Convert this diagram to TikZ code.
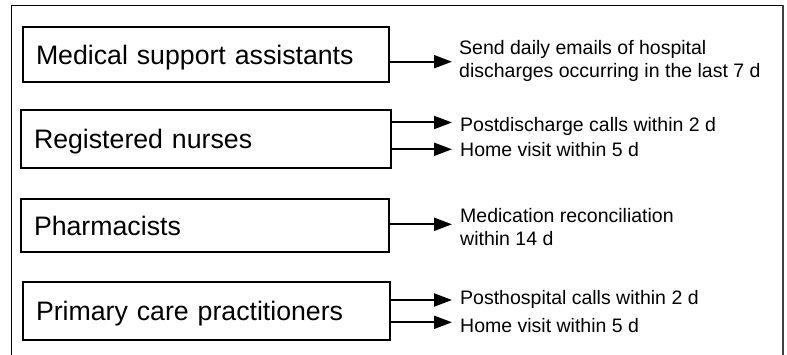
\documentclass[tikz,border=0pt]{standalone}
\usepackage{fontspec}
\setmainfont{Liberation Sans}
\usetikzlibrary{arrows.meta}
\begin{document}
\begin{tikzpicture}[x=1pt,y=-1pt,
  rolebox/.style={draw=black, line width=2pt, inner xsep=13pt, inner ysep=0pt, outer sep=0pt,
    align=left, font=\fontsize{26.7}{32}\selectfont, text height=19.2pt, text depth=0pt},
  task/.style={inner sep=0pt, anchor=base west, font=\fontsize{19.5}{22.5}\selectfont},
  arr/.style={line width=2pt, -{Triangle[length=18pt,width=13pt]}}]
\useasboundingbox (0,0) rectangle (787,355);
% outer frame
\draw[line width=1pt] (11,355) -- (11,6) -- (783,6);
\draw[line width=1.8pt, black!75] (783,5.5) -- (783,355);
% role boxes
\node[rolebox, minimum width=366pt, minimum height=55pt, text width=340pt] (b1) at (206,54.5) {Medical support assistants};
\node[rolebox, minimum width=370pt, minimum height=58pt, text width=344pt] (b2) at (206,139) {Registered nurses};
\node[rolebox, minimum width=368pt, minimum height=53pt, text width=342pt] (b3) at (205,225.5) {Pharmacists};
\node[rolebox, minimum width=367pt, minimum height=58pt, text width=341pt] (b4) at (206.5,311) {Primary care practitioners};
% tasks
\node[task] (t1) at (459,55) {\begin{tabular}[t]{@{}l@{}}Send daily emails of hospital\\discharges occurring in the last 7 d\end{tabular}};
\node[task] (t2a) at (460,132) {Postdischarge calls within 2 d};
\node[task] (t2b) at (460,157) {Home visit within 5 d};
\node[task] (t3) at (460,223) {\begin{tabular}[t]{@{}l@{}}Medication reconciliation\\within 14 d\end{tabular}};
\node[task] (t4a) at (460,305) {Posthospital calls within 2 d};
\node[task] (t4b) at (460,332.5) {Home visit within 5 d};
% arrow tips
\coordinate (a1) at (452,61.7);
\coordinate (a2a) at (452,122.5);
\coordinate (a2b) at (452,149.3);
\coordinate (a3) at (452,224.3);
\coordinate (a4a) at (452,300);
\coordinate (a4b) at (452,322.3);
\draw[arr] ([xshift=-1pt]b1.east |- a1) -- (a1);
\draw[arr] ([xshift=-1pt]b2.east |- a2a) -- (a2a);
\draw[arr] ([xshift=-1pt]b2.east |- a2b) -- (a2b);
\draw[arr] ([xshift=-1pt]b3.east |- a3) -- (a3);
\draw[arr] ([xshift=-1pt]b4.east |- a4a) -- (a4a);
\draw[arr] ([xshift=-1pt]b4.east |- a4b) -- (a4b);
\end{tikzpicture}
\end{document}
